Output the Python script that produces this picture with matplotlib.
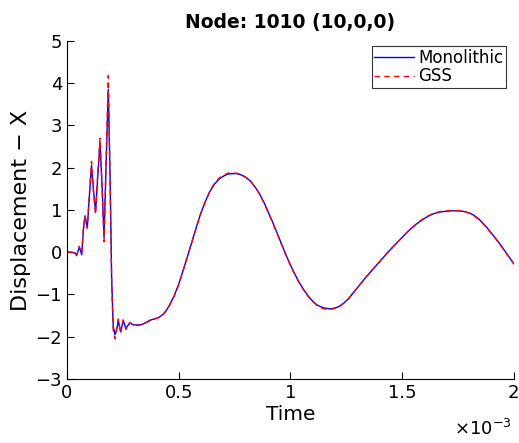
import numpy as np
import matplotlib.pyplot as plt

# time in units of 1e-3 s
# early part: impact oscillations
t_early = [0, 0.02, 0.036, 0.043, 0.050, 0.055, 0.060, 0.066, 0.074, 0.081, 0.086, 0.091,
           0.100, 0.110, 0.119, 0.128, 0.138, 0.148, 0.157, 0.166, 0.176, 0.185, 0.193,
           0.200, 0.207, 0.215, 0.222, 0.230, 0.240, 0.252, 0.264, 0.282, 0.297, 0.320,
           0.341, 0.371, 0.409, 0.43, 0.446]
y_mono_early = [0, 0, -0.02, -0.07, 0.03, 0.12, 0.05, -0.06, 0.55, 0.85, 0.72, 0.58,
                1.30, 2.05, 1.45, 0.95, 1.80, 2.60, 1.60, 0.35, 2.20, 3.85, 1.80,
                -0.60, -1.75, -1.95, -1.85, -1.62, -1.88, -1.62, -1.80, -1.67, -1.72, -1.72,
                -1.70, -1.61, -1.55, -1.47, -1.37]
y_gss_early = [0, 0, -0.02, -0.08, 0.03, 0.14, 0.05, -0.04, 0.60, 0.88, 0.70, 0.57,
               1.35, 2.15, 1.42, 0.90, 1.90, 2.70, 1.55, 0.25, 2.35, 4.18, 1.70,
               -0.70, -1.85, -2.05, -1.80, -1.58, -1.92, -1.60, -1.83, -1.66, -1.74, -1.73,
               -1.71, -1.62, -1.55, -1.48, -1.38]

# late part: free vibration
t_late = [0.46, 0.48, 0.50, 0.52, 0.54, 0.56, 0.58, 0.60, 0.62, 0.64, 0.66, 0.68, 0.70,
          0.72, 0.74, 0.76, 0.78, 0.80, 0.82, 0.84, 0.86, 0.88, 0.90, 0.92, 0.94, 0.96,
          0.98, 1.00, 1.02, 1.04, 1.06, 1.08, 1.10, 1.12, 1.14, 1.16, 1.18, 1.20, 1.22,
          1.24, 1.26, 1.28, 1.30, 1.32, 1.34, 1.36, 1.38, 1.40, 1.42, 1.44, 1.46, 1.48,
          1.50, 1.52, 1.54, 1.56, 1.58, 1.60, 1.62, 1.64, 1.66, 1.68, 1.70, 1.72, 1.74,
          1.76, 1.78, 1.80, 1.82, 1.84, 1.86, 1.88, 1.90, 1.92, 1.94, 1.96, 1.98, 2.00]
y_mono_late = [-1.24, -1.03, -0.76, -0.43, -0.09, 0.26, 0.61, 0.94, 1.21, 1.44, 1.61,
               1.73, 1.80, 1.85, 1.86, 1.86, 1.83, 1.77, 1.69, 1.56, 1.40, 1.20, 0.96,
               0.72, 0.46, 0.20, -0.06, -0.30, -0.52, -0.72, -0.89, -1.04, -1.16, -1.25,
               -1.30, -1.33, -1.34, -1.32, -1.28, -1.20, -1.10, -0.97, -0.84, -0.71, -0.58,
               -0.46, -0.34, -0.22, -0.10, 0.02, 0.13, 0.24, 0.35, 0.46, 0.56, 0.65, 0.73,
               0.80, 0.86, 0.91, 0.94, 0.96, 0.97, 0.98, 0.98, 0.98, 0.96, 0.93, 0.88,
               0.80, 0.70, 0.58, 0.45, 0.32, 0.18, 0.03, -0.12, -0.27]
y_gss_late = [-1.25, -1.04, -0.77, -0.44, -0.10, 0.25, 0.60, 0.93, 1.21, 1.45, 1.63,
              1.75, 1.82, 1.87, 1.88, 1.87, 1.84, 1.78, 1.69, 1.56, 1.39, 1.18, 0.95,
              0.71, 0.45, 0.19, -0.07, -0.31, -0.53, -0.73, -0.90, -1.05, -1.17, -1.26,
              -1.32, -1.35, -1.35, -1.33, -1.28, -1.20, -1.10, -0.97, -0.84, -0.71, -0.58,
              -0.46, -0.34, -0.22, -0.10, 0.02, 0.13, 0.24, 0.35, 0.46, 0.56, 0.65, 0.74,
              0.81, 0.87, 0.92, 0.95, 0.97, 0.98, 0.99, 0.99, 0.98, 0.96, 0.93, 0.87,
              0.79, 0.69, 0.57, 0.44, 0.31, 0.17, 0.02, -0.13, -0.28]

t_all = t_early + t_late
y_mono = y_mono_early + y_mono_late
y_gss = y_gss_early + y_gss_late

fig = plt.figure(figsize=(5.19, 4.43), dpi=100)
ax = fig.add_axes([0.129, 0.1445, 0.861, 0.763])
ax.plot(t_all, y_mono, color='blue', lw=1.0, label='Monolithic')
ax.plot(t_all, y_gss, color='red', lw=1.0, linestyle=(0, (4, 3)), label='GSS')

ax.set_xlim(0, 2)
ax.set_ylim(-3, 5)
ax.set_xticks([0, 0.5, 1, 1.5, 2])
ax.set_xticklabels(['0', '0.5', '1', '1.5', '2'])
ax.set_yticks(range(-3, 6))
ax.set_yticklabels([str(v).replace('-', '\u2212') for v in range(-3, 6)])
ax.spines['top'].set_visible(False)
ax.spines['right'].set_visible(False)
ax.tick_params(direction='in', length=5, labelsize=13, width=0.8)
ax.set_xlabel('Time', fontsize=14.5, labelpad=2)
ax.set_ylabel('Displacement \u2212 X', fontsize=16, labelpad=3)
ax.set_title('Node: 1010 (10,0,0)', fontsize=13.5, fontweight='bold', pad=9)
fig.text(0.985, 0.008, r'$\times10^{-3}$', ha='right', va='bottom', fontsize=13)

leg = ax.legend(loc='upper right', bbox_to_anchor=(0.983, 0.985), fontsize=12,
                fancybox=False, edgecolor='black', handlelength=2.4, handletextpad=0.25,
                borderpad=0.15, labelspacing=0.05, borderaxespad=0)
leg.get_frame().set_linewidth(0.8)

fig.savefig('out.png', dpi=100)
